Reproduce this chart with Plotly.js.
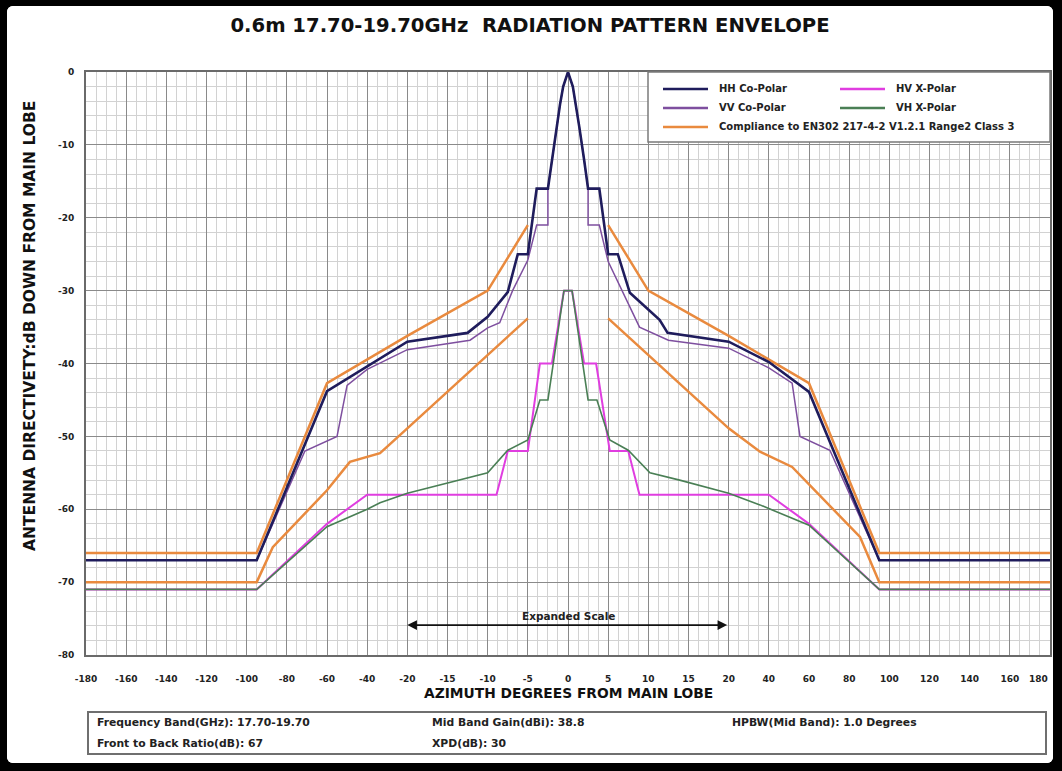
<!DOCTYPE html>
<html><head><meta charset="utf-8">
<script src="https://cdn.plot.ly/plotly-3.0.1.min.js"></script>
<style>
html,body{margin:0;padding:0;background:#000;width:1062px;height:771px;overflow:hidden}
#chart{position:absolute;left:7px;top:6px;width:1046px;height:757px;background:#fff;border-radius:6px;overflow:hidden}
</style></head><body><div id="chart"></div>
<script>
// ---- tick labels (degrees) ----
const tickDeg = [-180,-160,-140,-120,-100,-80,-60,-40,-20,-15,-10,-5,0,5,10,15,20,40,60,80,100,120,140,160,180];
const yTicks = [0,-10,-20,-30,-40,-50,-60,-70,-80];

// ---- series (degrees, dB) ----
const HH_deg = [-180,-95,-60,-37,-20,-12.5,-10,-7.5,-6.25,-5,-3.9,-2.5,-2,-1.4,-1,-0.6,0,0.6,1,1.4,2,2.5,3.9,5,6.2,7.7,11.4,12.4,20,40,60,95,180];
const HH_db  = [-67,-67,-43.8,-39.9,-37,-35.8,-33.6,-30.2,-25,-25,-16,-16,-12,-7.5,-4.5,-2,0,-2,-4.5,-7.5,-12,-16,-16,-25,-25,-30.3,-34,-35.8,-37,-39.8,-43.9,-67,-67];

const VV_deg = [-180,-95,-71,-55,-50,-40,-20,-12.2,-10,-8.5,-6.9,-5,-3.9,-2.5,-2.5,-2,-1.4,-1,-0.6,0,0.6,1,1.4,2,2.5,2.5,3.9,5,6.9,8.9,12.5,20,40,51.6,55.5,70.4,95,180];
const VV_db  = [-67,-67,-52,-50,-43,-40.8,-38.1,-36.8,-35.1,-34.4,-30,-25.8,-21,-21,-16,-12,-7.5,-4.5,-2,0,-2,-4.5,-7.5,-12,-16,-21,-21,-26,-30.5,-35,-36.8,-37.9,-40.6,-42.7,-50,-51.9,-67,-67];

const HV_deg = [-180,-95,-60,-40,-8.9,-7.5,-5,-3.5,-2,-0.5,0.5,2,3.5,5.2,7.5,8.9,40,60,95,180];
const HV_db  = [-71,-71,-62,-58,-58,-52,-52,-40,-40,-30,-30,-40,-40,-52,-52,-58,-58,-62,-71,-71];

const VH_deg = [-180,-95,-60,-40,-33.6,-20,-10,-7.5,-5,-3.5,-2.5,-0.5,0.5,2.5,3.6,5.2,7.5,10.2,13.9,20,35.6,60,95,180];
const VH_db  = [-71,-71,-62.4,-60,-59.1,-57.8,-55,-51.9,-50.5,-45,-45,-30,-30,-45,-45,-50.5,-51.9,-55,-56,-57.8,-59.4,-62.2,-71,-71];

// compliance envelope (upper and lower limits), null = gap
const ENVU_deg = [-180,-95,-60,-40,-20,-10,-5,null,5,10,20,40,60,95,180];
const ENVU_db  = [-66,-66,-42.7,-39.4,-36.2,-30,-21,null,-21,-30,-36.2,-39.4,-42.7,-66,-66];
const ENVL_deg = [-180,-95,-87,-60,-48.6,-33.6,-20,-5,null,5,20,35.6,51.6,85.4,95,180];
const ENVL_db  = [-70,-70,-65.2,-57.4,-53.5,-52.3,-48.9,-33.8,null,-33.8,-48.9,-52.1,-54.2,-63.8,-70,-70];

const legendNames = ["HH Co-Polar","HV X-Polar","VV Co-Polar","VH X-Polar","Compliance to EN302 217-4-2 V1.2.1 Range2 Class 3"];
const infoTexts = ["Frequency Band(GHz): 17.70-19.70","Mid Band Gain(dBi): 38.8","HPBW(Mid Band): 1.0 Degrees","Front to Back Ratio(dB): 67","XPD(dB): 30"];

// ---- piecewise azimuth scale: expanded between -20 and 20 ----
function pos(d){
  if(d===null) return null;
  if(d<=-20) return (d+180)/20;
  if(d>=20) return 16+(d-20)/20;
  return 12+d/5;
}

const C = {HH:'#1f1c5c', VV:'#7e4f9f', HV:'#e03de0', VH:'#4a7f55', ENV:'#e98a3e'};
const F = 'DejaVu Sans, Verdana, sans-serif';

function tr(xd, yd, color, w){
  return {x: xd.map(pos), y: yd, type:'scatter', mode:'lines', line:{color:color, width:w}, connectgaps:false, hoverinfo:'skip', showlegend:false};
}
const data = [
  tr(ENVU_deg, ENVU_db, C.ENV, 2.5),
  tr(ENVL_deg, ENVL_db, C.ENV, 2.5),
  tr(HV_deg, HV_db, C.HV, 2),
  tr(VH_deg, VH_db, C.VH, 1.6),
  tr(VV_deg, VV_db, C.VV, 1.5),
  tr(HH_deg, HH_db, C.HH, 2.6)
];

// page-pixel -> paper helpers (plot area page 86..1050 x 72..655)
const xp = px => (px-86)/964;
const yp = py => (655-py)/583;

const shapes = [];
const ann = [];
// legend box
shapes.push({type:'rect', xref:'paper', yref:'paper', x0:xp(648), x1:xp(1050), y0:yp(142), y1:yp(72), line:{color:'#7a7a7a', width:1.5}, fillcolor:'#ffffff', layer:'above'});
const legItems = [
  {name:legendNames[0], color:C.HH, x:663, y:89},
  {name:legendNames[1], color:C.HV, x:840, y:89},
  {name:legendNames[2], color:C.VV, x:663, y:108},
  {name:legendNames[3], color:C.VH, x:840, y:108},
  {name:legendNames[4], color:C.ENV, x:663, y:127}
];
legItems.forEach(it=>{
  shapes.push({type:'line', xref:'paper', yref:'paper', x0:xp(it.x), x1:xp(it.x+45), y0:yp(it.y), y1:yp(it.y), line:{color:it.color, width:2.5}, layer:'above'});
  ann.push({xref:'paper', yref:'paper', x:xp(it.x+54), y:yp(it.y), text:it.name, showarrow:false, xanchor:'left', yanchor:'middle', font:{family:F, size:10, color:'#222', weight:'bold'}});
});
// info box
shapes.push({type:'rect', xref:'paper', yref:'paper', x0:xp(88), x1:xp(1046), y0:yp(754), y1:yp(712), line:{color:'#6f6f6f', width:2}, fillcolor:'rgba(0,0,0,0)'});
const infoPos = [[95,722],[430,722],[730,722],[95,743],[430,743]];
infoTexts.forEach((t,i)=>{
  ann.push({xref:'paper', yref:'paper', x:xp(infoPos[i][0]), y:yp(infoPos[i][1]), text:t, showarrow:false, xanchor:'left', yanchor:'middle', font:{family:F, size:10.8, color:'#222', weight:'bold'}});
});
// last x tick label drawn inside the frame (as in the original sheet)
ann.push({xref:'paper', yref:'paper', x:xp(1038), y:yp(678.5), text:String(tickDeg[tickDeg.length-1]), showarrow:false, xanchor:'center', yanchor:'middle', font:{family:F, size:9, color:'#222', weight:'bold'}});
// axis titles
ann.push({xref:'paper', yref:'paper', x:xp(568), y:yp(693), text:'AZIMUTH DEGREES FROM MAIN LOBE', showarrow:false, xanchor:'center', yanchor:'middle', font:{family:F, size:13.8, color:'#111', weight:'bold'}});
ann.push({xref:'paper', yref:'paper', x:xp(30), y:yp(326), text:'ANTENNA DIRECTIVETY:dB DOWN FROM MAIN LOBE', textangle:-90, showarrow:false, xanchor:'center', yanchor:'middle', font:{family:F, size:15.5, color:'#111', weight:'bold'}});
// expanded scale arrow
ann.push({x:pos(-20), y:-75.9, ax:pos(20), ay:-75.9, axref:'x', ayref:'y', xref:'x', yref:'y', text:'', showarrow:true, arrowhead:2, startarrowhead:2, arrowside:'end+start', arrowsize:1.2, arrowwidth:1.6, arrowcolor:'#111'});
ann.push({x:pos(0), y:-74.7, xref:'x', yref:'y', text:'Expanded Scale', showarrow:false, xanchor:'center', yanchor:'middle', font:{family:F, size:10.5, color:'#222', weight:'bold'}});

const ticktext = tickDeg.map((d,i)=> i===tickDeg.length-1 ? '' : String(d));

const layout = {
  width:1046, height:757,
  margin:{l:79, r:3, t:66, b:108},
  paper_bgcolor:'#ffffff', plot_bgcolor:'#ffffff',
  title:{text:'0.6m 17.70-19.70GHz  RADIATION PATTERN ENVELOPE', x:0.5, xref:'container', y:0.975, yref:'container', yanchor:'middle', xanchor:'center', font:{family:F, size:19.6, color:'#111', weight:'bold'}},
  xaxis:{range:[0,24], tickmode:'array', tickvals:tickDeg.map(pos), ticktext:ticktext, ticks:'', ticklabelstandoff:14,
    tickfont:{family:F, size:9, color:'#222', weight:'bold'}, showgrid:true, gridcolor:'#8a8a8a', gridwidth:1,
    minor:{tickmode:'linear', tick0:0, dtick:0.25, showgrid:true, gridcolor:'#d2d2d2', gridwidth:1},
    showline:true, mirror:true, linecolor:'#6a6a6a', linewidth:2, zeroline:false, fixedrange:true},
  yaxis:{range:[-80,0], tickmode:'array', tickvals:yTicks, ticktext:yTicks.map(String), ticks:'', ticklabelstandoff:8,
    tickfont:{family:F, size:9, color:'#222', weight:'bold'}, showgrid:true, gridcolor:'#8a8a8a', gridwidth:1,
    minor:{tickmode:'linear', tick0:0, dtick:2, showgrid:true, gridcolor:'#d2d2d2', gridwidth:1},
    showline:true, mirror:true, linecolor:'#6a6a6a', linewidth:2, zeroline:false, fixedrange:true},
  shapes:shapes, annotations:ann, showlegend:false
};
Plotly.newPlot('chart', data, layout, {displayModeBar:false, staticPlot:true});
</script></body></html>
